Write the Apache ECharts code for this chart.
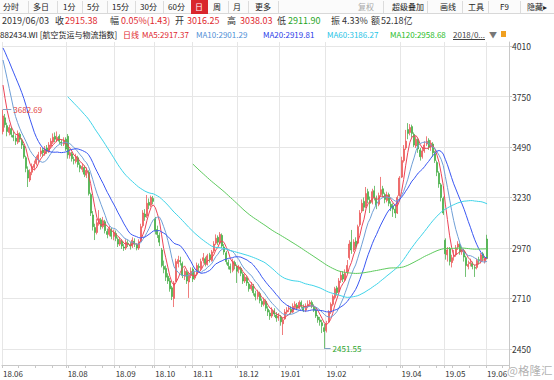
<!DOCTYPE html>
<html><head><meta charset="utf-8">
<script src="https://cdn.jsdelivr.net/npm/echarts@6/dist/echarts.min.js"></script>
<style>
html,body{margin:0;padding:0;background:#fff;width:554px;height:380px;overflow:hidden;font-family:"Noto Sans CJK SC","Noto Sans",sans-serif;}
#chart{position:absolute;left:0;top:0;width:554px;height:380px;}
.t{position:absolute;white-space:nowrap;line-height:14px;z-index:5;}
.tb{top:0;font-size:8px;color:#222;}
.r2{top:14px;font-size:9px;color:#333;}
.r3{top:28px;font-size:8px;color:#222;}
.sep{position:absolute;top:1px;width:1px;height:12px;background:#dcdcdc;z-index:4;}
.red{color:#e0282e;} .grn{color:#1fa51f;}
</style></head>
<body>
<div id="chart"></div>
<div style="position:absolute;left:0;top:0;width:554px;height:14px;background:#fbfbfb;border-bottom:1px solid #d8d8d8;box-sizing:border-box;z-index:3"></div>
<div style="position:absolute;left:191px;top:0;width:17px;height:14px;background:#d9262c;z-index:4"></div>
<span class="t tb" style="left:3px">分时</span>
<span class="t tb" style="left:33px">多日</span>
<span class="t tb" style="left:63px">1分</span>
<span class="t tb" style="left:87px">5分</span>
<span class="t tb" style="left:112px">15分</span>
<span class="t tb" style="left:140px">30分</span>
<span class="t tb" style="left:168px">60分</span>
<span class="t tb" style="left:195px;color:#fff">日</span>
<span class="t tb" style="left:213px">周</span>
<span class="t tb" style="left:233px">月</span>
<span class="t tb" style="left:255px">更多</span>
<span class="t tb" style="left:358px;color:#aaa">复权</span>
<span class="t tb" style="left:392px">超级叠加</span>
<span class="t tb" style="left:440px">画线</span>
<span class="t tb" style="left:468px">工具</span>
<span class="t tb" style="left:500px">F9</span>
<span class="t tb" style="left:527px">隐藏▸</span>
<div class="sep" style="left:28px"></div><div class="sep" style="left:57px"></div><div class="sep" style="left:82px"></div>
<div class="sep" style="left:107px"></div><div class="sep" style="left:135px"></div><div class="sep" style="left:163px"></div>
<div class="sep" style="left:228px"></div><div class="sep" style="left:248px"></div><div class="sep" style="left:278px"></div>
<div class="sep" style="left:383px"></div><div class="sep" style="left:427px"></div><div class="sep" style="left:462px"></div>
<div class="sep" style="left:488px"></div><div class="sep" style="left:520px"></div>

<span class="t r2" style="left:2px">2019/06/03</span>
<span class="t r2" style="left:55px">收</span><span class="t r2 red" style="left:65px">2915.38</span>
<span class="t r2" style="left:110px">幅</span><span class="t r2 red" style="left:121px">0.05%(1.43)</span>
<span class="t r2" style="left:175px">开</span><span class="t r2 red" style="left:187px">3016.25</span>
<span class="t r2" style="left:227px">高</span><span class="t r2 red" style="left:240px">3038.03</span>
<span class="t r2" style="left:277px">低</span><span class="t r2 grn" style="left:288px">2911.90</span>
<span class="t r2" style="left:331px">振</span><span class="t r2" style="left:342px">4.33%</span>
<span class="t r2" style="left:371px">额</span><span class="t r2" style="left:381px">52.18亿</span>

<span class="t r3" style="left:0px">882434.WI [航空货运与物流指数]</span>
<span class="t r3 red" style="left:123px">日线</span>
<span class="t r3 red" style="left:142px">MA5:2917.37</span>
<span class="t r3" style="left:196px;color:#4f8fd6">MA10:2901.29</span>
<span class="t r3" style="left:263px;color:#2b3ce8">MA20:2919.81</span>
<span class="t r3" style="left:327px;color:#1fc4e6">MA60:3186.27</span>
<span class="t r3" style="left:390px;color:#2bbd2b">MA120:2958.68</span>
<span class="t r3" style="left:453px;color:#444;text-decoration:underline">2018/0...</span>
<span class="t r3" style="left:489px;color:#777">▼</span>
<div style="position:absolute;left:501px;top:31px;width:5px;height:6px;background:#f0a020;z-index:5"></div>
<span class="t" style="left:507px;top:361px;font-size:11.5px;line-height:18px;color:rgba(110,110,110,0.55)">@格隆汇</span>

<script>
// ---------- DATA ----------
const tradingDays = {
  '2018/06': [19,20,21,22,25,26,27,28,29],
  '2018/07': [2,3,4,5,6,9,10,11,12,13,16,17,18,19,20,23,24,25,26,27,30,31],
  '2018/08': [1,2,3,6,7,8,9,10,13,14,15,16,17,20,21,22,23,24,27,28,29,30,31],
  '2018/09': [3,4,5,6,7,10,11,12,13,14,17,18,19,20,21,25,26,27,28],
  '2018/10': [8,9,10,11,12,15,16,17,18,19,22,23,24,25,26,29,30,31],
  '2018/11': [1,2,5,6,7,8,9,12,13,14,15,16,19,20,21,22,23,26,27,28,29,30],
  '2018/12': [3,4,5,6,7,10,11,12,13,14,17,18,19,20,21,24,25,26,27,28],
  '2019/01': [2,3,4,7,8,9,10,11,14,15,16,17,18,21,22,23,24,25,28,29,30,31],
  '2019/02': [1,11,12,13,14,15,18,19,20,21,22,25,26,27,28],
  '2019/03': [1,4,5,6,7,8,11,12,13,14,15,18,19,20,21,22,25,26,27,28,29],
  '2019/04': [1,2,3,4,8,9,10,11,12,15,16,17,18,19,22,23,24,25,26,29,30],
  '2019/05': [6,7,8,9,10,13,14,15,16,17,20,21,22,23,24,27,28,29,30,31],
  '2019/06': [3]
};
const labelMonths = ['2018/06','2018/08','2018/09','2018/10','2018/11','2018/12','2019/01','2019/02','2019/04','2019/05','2019/06'];
const yTicks = [2450, 2710, 2970, 3230, 3490, 3750, 4010];

// closes before the first visible day (feed the moving averages only)
const priorCloses = [4100,4080,4120,4090,4070,4060,4100,4080,4070,
  4050,4080,4070,4090,4060,4040,4070,4050,4060,4050,
  4080,4060,4090,4050,4055, 3950,3880,3820,3745];

const opens = [
  3570,3640,3600,3565,3585,3550,3535,3515,3555,
  3525,3495,3435,3370,3320,3360,3385,3405,3425,3455,3475,3455,3485,3465,3495,3515,3545,3525,3545,3515,3505,3530,
  3545,3445,3455,3425,3415,3435,3395,3375,3385,3345,3360,3245,3140,3075,3050,3095,3115,3080,3105,3055,3040,3065,3030,
  3045,3015,2990,3005,2975,2970,2995,2985,2980,3005,2985,2970,3005,3085,3145,3135,3205,3190,3225,
  3120,3065,3035,2960,2875,2865,2825,2800,2765,2710,2800,2890,2905,2890,2825,2845,2795,2830,
  2860,2815,2835,2875,2865,2905,2915,2885,2935,2905,2955,2995,3025,2995,3035,2975,2945,2895,2875,2855,2895,2875,
  2860,2865,2835,2800,2815,2785,2760,2775,2735,2720,2735,2695,2680,2695,2655,2635,2620,2645,2625,2610,
  2615,2580,2605,2640,2655,2655,2640,2665,2675,2660,2690,2665,2650,2670,2680,2690,2665,2650,2615,2600,2585,2560,
  2545,2590,2640,2680,2715,2765,2745,2805,2835,2805,2845,2920,3000,2960,3005,
  2995,3090,3160,3210,3185,3260,3215,3205,3265,3225,3195,3245,3275,3245,3215,3245,3195,3185,3170,3150,3240,
  3335,3420,3485,3580,3565,3595,3555,3495,3525,3475,3440,3470,3505,3525,3490,3505,3455,3410,3355,3295,3225,
  3010,2935,2965,2895,2925,2935,2975,2985,2950,2955,2920,2875,2890,2890,2870,2870,2910,2900,2940,2900,
  3016.25
];
const closes = [
  3650,3605,3570,3590,3555,3540,3520,3560,3530,
  3500,3440,3380,3330,3360,3390,3400,3430,3450,3470,3460,3480,3470,3500,3520,3540,3530,3540,3520,3510,3525,3480,
  3450,3460,3430,3420,3440,3400,3380,3390,3350,3370,3250,3150,3080,3050,3100,3120,3080,3110,3060,3040,3070,3030,3050,
  3020,2990,3010,2980,2970,3000,2990,2980,3010,2990,2970,3000,3080,3150,3130,3200,3190,3230,3210,
  3060,3040,3000,2880,2860,2820,2800,2760,2720,2790,2900,2910,2900,2830,2850,2800,2830,2850,
  2810,2830,2880,2870,2900,2920,2890,2930,2910,2950,2990,3020,3000,3040,2980,2950,2900,2880,2860,2900,2880,2850,
  2870,2840,2800,2820,2790,2760,2780,2740,2720,2740,2700,2680,2700,2660,2640,2620,2650,2630,2610,2620,
  2590,2600,2640,2650,2660,2640,2670,2680,2660,2690,2670,2650,2670,2680,2690,2670,2650,2620,2600,2590,2570,2540,
  2580,2640,2680,2720,2760,2740,2800,2830,2810,2840,2880,2990,2960,3000,2980,
  3080,3150,3200,3180,3250,3220,3200,3260,3230,3190,3240,3270,3250,3220,3240,3200,3180,3170,3150,3230,3330,
  3420,3480,3520,3560,3590,3560,3500,3530,3480,3440,3470,3500,3520,3490,3510,3460,3420,3360,3300,3230,3150,
  2940,2960,2900,2920,2930,2970,2990,2950,2960,2923.3,2880,2885,2895,2875,2866.05,2905,2905,2935,2917.52,2913.95,
  2915.38
];
const lows = [
  3555,3590,3545,3550,3540,3520,3500,3505,3515,
  3480,3430,3360,3284,3310,3345,3370,3395,3410,3440,3440,3445,3455,3460,3485,3505,3515,3515,3505,3495,3495,3470,
  3430,3430,3415,3400,3405,3385,3360,3360,3335,3330,3240,3135,3060,3011,3040,3085,3065,3070,3045,3020,3030,3015,3010,
  3005,2975,2980,2965,2955,2960,2975,2962,2970,2975,2958,2960,3000,3075,3110,3125,3170,3180,3195,
  3040,3021,2980,2870,2840,2800,2785,2745,2702,2666,2795,2870,2880,2815,2805,2785,2713,2815,
  2795,2805,2825,2850,2855,2890,2875,2880,2895,2900,2945,2985,2985,2990,2970,2935,2885,2860,2840,2845,2860,2790,
  2840,2825,2785,2790,2775,2745,2750,2725,2700,2705,2685,2666,2670,2645,2620,2600,2610,2615,2590,2595,
  2570,2522,2600,2630,2640,2630,2635,2655,2650,2655,2660,2640,2640,2660,2670,2660,2640,2610,2585,2570,2532,2451.55,
  2535,2585,2630,2670,2705,2725,2740,2790,2795,2800,2835,2910,2940,2950,2965,
  2990,3080,3150,3160,3175,3200,3150,3195,3215,3170,3185,3235,3230,3200,3205,3185,3160,3130,3124,3145,3235,
  3330,3410,3475,3530,3550,3540,3490,3485,3460,3420,3430,3460,3495,3475,3470,3440,3408,3340,3280,3210,3140,
  2910,2900,2880,2870,2905,2925,2960,2935,2935,2900,2821,2860,2875,2860,2821,2860,2885,2890,2905,2890,
  2911.90
];
const highs = [
  3682.69,3660,3615,3605,3595,3570,3550,3575,3565,
  3535,3505,3445,3390,3375,3405,3420,3445,3465,3490,3485,3495,3500,3515,3535,3560,3565,3570,3555,3530,3540,3540,
  3557,3480,3465,3440,3455,3445,3410,3405,3395,3385,3370,3255,3160,3095,3120,3165,3125,3130,3115,3070,3085,3075,3065,
  3060,3025,3025,3015,2990,3015,3010,3000,3025,3020,2995,3015,3095,3165,3170,3243,3225,3240,3238,
  3130,3085,3050,2970,2905,2880,2840,2815,2775,2800,2915,2930,2925,2900,2865,2855,2845,2870,
  2870,2850,2895,2890,2915,2944,2925,2940,2945,2960,3005,3040,3035,3052,3045,2990,2955,2910,2890,2915,2905,2885,
  2883,2875,2845,2835,2825,2795,2795,2785,2750,2755,2745,2710,2715,2705,2670,2650,2665,2660,2640,2635,
  2625,2612,2655,2665,2675,2670,2685,2695,2687,2700,2700,2680,2685,2700,2702,2700,2680,2660,2625,2615,2600,2580,
  2595,2650,2690,2730,2770,2775,2815,2850,2850,2860,2908,3010,3063,3015,3025,
  3090,3165,3220,3230,3284,3275,3235,3275,3290,3240,3255,3336,3290,3255,3260,3255,3210,3200,3190,3240,3340,
  3440,3500,3578,3613,3608,3605,3565,3545,3535,3485,3490,3520,3545,3535,3525,3515,3470,3420,3365,3305,3235,
  3020,2975,2975,2935,2960,2985,3005,2995,2975,2965,2930,2905,2915,2900,2885,2915,2925,2945,2950,2930,
  3038.03
];
const maPeriods = [5, 10, 20, 60, 120];
const maNames = ['MA5', 'MA10', 'MA20', 'MA60', 'MA120'];
const padSlots = 10;

// ---------- BUILD ----------
const categories = [];
Object.keys(tradingDays).forEach(m => tradingDays[m].forEach(d => categories.push(m + '/' + String(d).padStart(2, '0'))));
const xData = categories.concat(new Array(padSlots).fill(''));
const labelIdx = new Set(labelMonths.map(m => categories.findIndex(c => c.startsWith(m))));

const candleData = categories.map((c, i) => [opens[i], closes[i], lows[i], highs[i]]);

function movingAverage(n) {
  const all = priorCloses.concat(closes);
  const off = priorCloses.length;
  return closes.map((_, i) => {
    const end = i + off;
    if (end - n + 1 < 0) return null;
    let s = 0;
    for (let k = end - n + 1; k <= end; k++) s += all[k];
    return +(s / n).toFixed(2);
  });
}

let hiIdx = 0, loIdx = 0;
highs.forEach((v, i) => { if (v > highs[hiIdx]) hiIdx = i; });
lows.forEach((v, i) => { if (v < lows[loIdx]) loIdx = i; });

const FONT = '"Noto Sans CJK SC","Noto Sans",sans-serif';
const maColors = ['#ec4457', '#6f9fd6', '#3a57f2', '#3fd3e8', '#5cc95c'];

const chart = echarts.init(document.getElementById('chart'), null, { renderer: 'svg' });
chart.setOption({
  animation: false,
  grid: { left: 0, right: 45, top: 42, bottom: 15 },
  xAxis: {
    type: 'category', data: xData, boundaryGap: true,
    axisLine: { lineStyle: { color: '#c8c8c8' } },
    axisTick: { show: true, interval: (i) => i % 8 === 0 || labelIdx.has(i), length: 3, lineStyle: { color: '#c8c8c8' } },
    axisLabel: {
      interval: (i) => labelIdx.has(i),
      formatter: (v) => v ? v.slice(2, 4) + '.' + v.slice(5, 7) : '',
      align: 'left', color: '#333', fontSize: 8, margin: 4, fontFamily: FONT
    },
    splitLine: { show: true, interval: (i) => labelIdx.has(i), lineStyle: { color: '#e6e6e6' } }
  },
  yAxis: {
    type: 'value', position: 'right', min: 2367.6, max: 4030.6,
    axisLine: { show: true, lineStyle: { color: '#c8c8c8' } },
    axisTick: { show: true, customValues: yTicks, length: 3, lineStyle: { color: '#c8c8c8' } },
    axisLabel: { customValues: yTicks, formatter: (v) => String(Math.round(v)), color: '#333', fontSize: 8.5, margin: 3, fontFamily: FONT },
    splitLine: { show: true, lineStyle: { color: '#e6e6e6' } }
  },
  series: [
    {
      type: 'candlestick', name: '日线', data: candleData, barWidth: 1.5,
      itemStyle: { color: '#f39191', color0: '#5dbb5d', borderColor: '#ea4646', borderColor0: '#3aa83a', borderWidth: 0.7 },
      markLine: {
        silent: true, symbol: ['none', 'none'], animation: false,
        data: [
          [
            { coord: [categories[hiIdx], highs[hiIdx]], lineStyle: { color: '#7f9fc4', width: 1, type: 'solid' },
              label: { show: true, position: 'end', formatter: highs[hiIdx].toFixed(2), color: '#e2403a', fontSize: 8, distance: 2, fontFamily: FONT } },
            { coord: [categories[hiIdx + 4], highs[hiIdx]] }
          ],
          [
            { coord: [categories[loIdx], lows[loIdx]], lineStyle: { color: '#7f9fc4', width: 1, type: 'solid' },
              label: { show: true, position: 'end', formatter: lows[loIdx].toFixed(2), color: '#2ea52e', fontSize: 8, distance: 2, fontFamily: FONT } },
            { coord: [categories[loIdx + 3], lows[loIdx]] }
          ]
        ]
      }
    }
  ].concat(maPeriods.map((n, k) => ({
    type: 'line', name: maNames[k], data: movingAverage(n), symbol: 'none', silent: true,
    lineStyle: { width: 1, color: maColors[k] }, itemStyle: { color: maColors[k] }, z: 3
  })))
});
</script>
</body></html>
